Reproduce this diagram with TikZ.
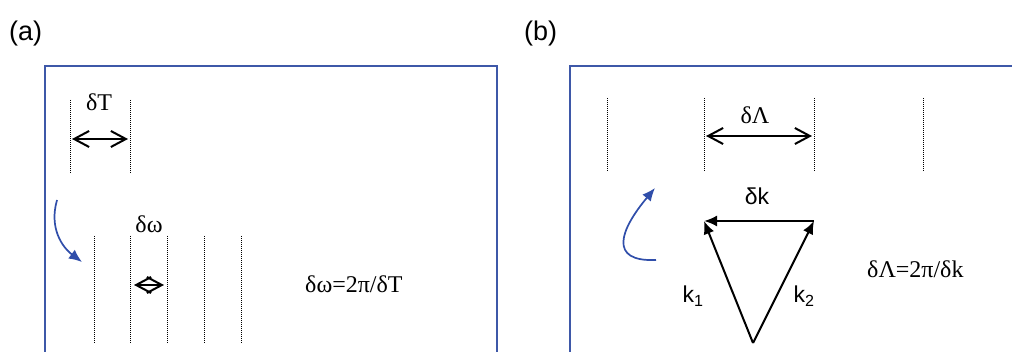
\documentclass[tikz,border=0pt]{standalone}
\usepackage{fontspec}
\setmainfont{Liberation Serif}
\setsansfont{Liberation Sans}
\usetikzlibrary{positioning,arrows.meta}
\definecolor{frameblue}{RGB}{62,88,168}
\definecolor{turnblue}{RGB}{48,78,170}
\tikzset{
  frame/.style={draw=frameblue,line width=1.4pt},
  tick/.style={line width=1pt,dash pattern=on 1pt off 1pt},
  span/.style={{Straight Barb[length=15pt,width=16pt]}-{Straight Barb[length=15pt,width=16pt]},line width=2pt},
  vec/.style={-{Latex[length=13pt,width=11pt]},line width=2pt},
  turn/.style={-{Latex[length=13pt,width=11pt]},draw=turnblue,line width=1.7pt},
  lab/.style={font=\fontsize{24}{26}\selectfont,inner sep=0pt},
  slab/.style={font=\sffamily\fontsize{23}{25}\selectfont,inner sep=0pt},
  tag/.style={font=\sffamily\fontsize{27}{29}\selectfont,inner sep=0pt}
}
\begin{document}
\begin{tikzpicture}[x=1pt,y=-1pt]
\useasboundingbox (0,0) rectangle (1012,352);

% (a) time domain -> frequency domain
\node[tag,anchor=base west] (taga) at (9,41) {(a)};
\draw[frame] (45,352) -- (45,66) -- (497,66) -- (497,352);

\coordinate (a1t) at (70,100);  \coordinate (a1b) at (70,173);
\coordinate (a2t) at (130,100); \coordinate (a2b) at (130,173);
\draw[tick] (a1t) -- (a1b);
\draw[tick] (a2t) -- (a2b);
\coordinate (dTl) at (72,139); \coordinate (dTr) at (128,139);
\draw[span] (dTl) -- (dTr);
\node[lab,anchor=base] (dT) at (99,111) {δT};

\coordinate (w1t) at (94,236);  \coordinate (w1b) at (94,343);
\coordinate (w2t) at (130,236); \coordinate (w2b) at (130,343);
\coordinate (w3t) at (167,236); \coordinate (w3b) at (167,343);
\coordinate (w4t) at (204,236); \coordinate (w4b) at (204,343);
\coordinate (w5t) at (241,236); \coordinate (w5b) at (241,343);
\draw[tick] (w1t) -- (w1b);
\draw[tick] (w2t) -- (w2b);
\draw[tick] (w3t) -- (w3b);
\draw[tick] (w4t) -- (w4b);
\draw[tick] (w5t) -- (w5b);
\coordinate (dwl) at (134,285); \coordinate (dwr) at (164,285);
\draw[span] (dwl) -- (dwr);
\node[lab,anchor=base] (dw) at (149,233) {δω};

\coordinate (ca0) at (57,200); \coordinate (ca1) at (82,262);
\draw[turn] (ca0) .. controls (49,228) and (62,247) .. (ca1);

\node[lab,anchor=base west] (eqa) at (305,293) {δω=2π/δT};

% (b) grating period from wave vectors
\node[tag,anchor=base west] (tagb) at (524,41) {(b)};
\draw[frame] (570,352) -- (570,66) -- (1012,66);

\coordinate (b1t) at (607,98); \coordinate (b1b) at (607,171);
\coordinate (b2t) at (704,98); \coordinate (b2b) at (704,171);
\coordinate (b3t) at (814,98); \coordinate (b3b) at (814,171);
\coordinate (b4t) at (923,98); \coordinate (b4b) at (923,171);
\draw[tick] (b1t) -- (b1b);
\draw[tick] (b2t) -- (b2b);
\draw[tick] (b3t) -- (b3b);
\draw[tick] (b4t) -- (b4b);
\coordinate (dLl) at (706,136); \coordinate (dLr) at (812,136);
\draw[span] (dLl) -- (dLr);
\node[lab,anchor=base] (dL) at (755,124) {δΛ};

\coordinate (cb0) at (656,260); \coordinate (cb1) at (655,188);
\draw[turn] (cb0) .. controls (608,262) and (620,230) .. (cb1);

\coordinate (kb) at (753,343);
\coordinate (kl) at (704,221);
\coordinate (kr) at (814,221);
\draw[vec] (kb) -- (kl);
\draw[vec] (kb) -- (kr);
\draw[vec] (kr) -- (kl);
\node[slab,anchor=base] (dk) at (757,205) {δk};
\node[slab,anchor=base] (k1) at (693,303) {k\textsubscript{1}};
\node[slab,anchor=base] (k2) at (804,303) {k\textsubscript{2}};

\node[lab,anchor=base west] (eqb) at (867,278) {δΛ=2π/δk};
\end{tikzpicture}
\end{document}
